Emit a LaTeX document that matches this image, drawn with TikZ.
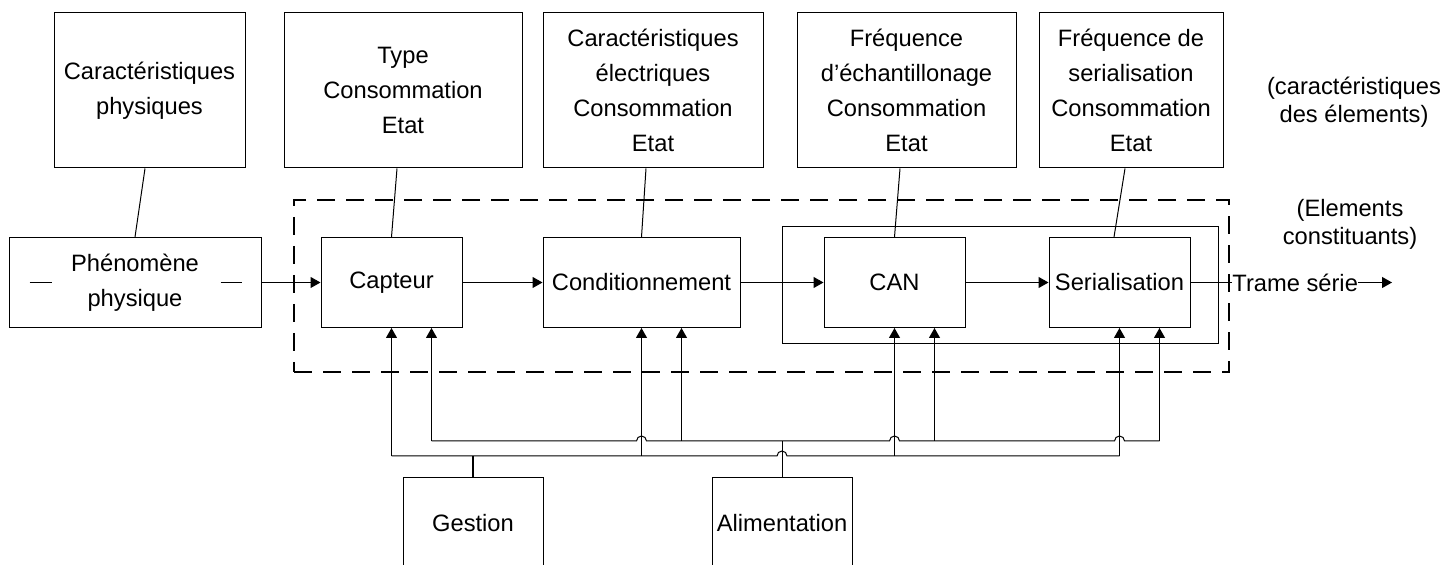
\documentclass[tikz,border=0pt]{standalone}
\usepackage{fontspec}
\setmainfont{Liberation Sans}
\usetikzlibrary{arrows.meta,calc}
\begin{document}
\begin{tikzpicture}[x=0.5pt,y=-0.5pt,
  box/.style={draw, line width=0.5pt, align=center, inner sep=0pt, font=\fontsize{11.85}{17.5}\selectfont},
  wire/.style={line width=0.5pt},
  arr/.style={wire, -{Triangle[length=5pt,width=5.5pt]}},
  lbl/.style={align=center, inner sep=0pt, font=\fontsize{11.85}{14}\selectfont},
  dashbox/.style={draw, line width=1.2pt, dash pattern=on 9pt off 5.5pt},
]
\useasboundingbox (0,0) rectangle (1444,565);

% top characteristic boxes
\node[box, minimum width=95.5pt, minimum height=77.5pt] (c1) at (149.5,90.5) {Caractéristiques\\physiques};
\node[box, minimum width=119pt, minimum height=77.5pt] (c2) at (403,90.5) {Type\\Consommation\\Etat};
\node[box, minimum width=110pt, minimum height=77.5pt] (c3) at (653,90.5) {Caractéristiques\\électriques\\Consommation\\Etat};
\node[box, minimum width=109.5pt, minimum height=77.5pt] (c4) at (906.5,90.5) {Fréquence\\d’échantillonage\\Consommation\\Etat};
\node[box, minimum width=92pt, minimum height=77.5pt] (c5) at (1131,90.5) {Fréquence de\\serialisation\\Consommation\\Etat};

% dashed enclosure and group box
\node[dashbox, minimum width=467.5pt, minimum height=86pt] (dz) at (761.5,286) {};
\node[draw, line width=0.5pt, minimum width=218pt, minimum height=58.5pt] (grp) at (1000,285.5) {};

% main chain
\node[box, minimum width=126pt, minimum height=45pt] (phen) at (135,282.5) {Phénomène\\physique};
\node[box, minimum width=70.5pt, minimum height=45pt] (capt) at (391.5,282.5) {Capteur};
\node[box, minimum width=98.5pt, minimum height=45pt] (cond) at (641.5,282.5) {Conditionnement};
\node[box, minimum width=70.5pt, minimum height=45pt] (can) at (894.5,282.5) {CAN};
\node[box, minimum width=70.5pt, minimum height=45pt] (ser) at (1119.5,282.5) {Serialisation};
\node[lbl, anchor=west] (trame) at (1232,282.5) {Trame série};
\coordinate (out) at (1392,282.5);

% bottom boxes
\node[box, minimum width=70pt, minimum height=45pt] (ges) at (473,523) {Gestion};
\node[box, minimum width=70pt, minimum height=45pt] (alim) at (782,523) {Alimentation};

% side labels
\node[lbl] (l1) at (1354,102) {(caractéristiques\\des élements)};
\node[lbl] (l2) at (1350,224) {(Elements\\constituants)};

% small dashes inside the phenomenon box
\draw[wire] ($(phen.west)+(21,0)$) -- ++(22,0);
\draw[wire] ($(phen.east)+(-41,0)$) -- ++(21,0);

% links characteristic -> element
\draw[wire] ($(c1.south)+(-4.5,0)$) -- (phen.north);
\draw[wire] ($(c2.south)+(-6,0)$) -- (capt.north);
\draw[wire] ($(c3.south)+(-7,0)$) -- (cond.north);
\draw[wire] ($(c4.south)+(-6.5,0)$) -- (can.north);
\draw[wire] ($(c5.south)+(-6,0)$) -- ($(ser.north)+(-5.5,0)$);

% signal chain
\draw[arr] (phen.east) -- (capt.west);
\draw[arr] (capt.east) -- (cond.west);
\draw[arr] (cond.east) -- (can.west);
\draw[arr] (can.east) -- (ser.west);
\draw[wire] (ser.east) -- (trame.west);
\draw[arr] (trame.east) -- (out);

% bus levels
\coordinate (gbus) at (0,456);
\coordinate (abus) at (0,441);

% Gestion network (lower bus)
\draw[wire, line width=0.7pt] (ges.north) -- (ges.north |- gbus);
\draw[wire] (capt.south |- gbus) -- (777,456) arc[start angle=180,end angle=0,radius=2.5pt] -- (ser.south |- gbus);
\draw[arr] (capt.south |- gbus) -- (capt.south);
\draw[arr] (cond.south |- gbus) -- (cond.south);
\draw[arr] (can.south |- gbus) -- (can.south);
\draw[arr] (ser.south |- gbus) -- (ser.south);

% Alimentation network (upper bus)
\coordinate (ca) at ($(capt.south)+(40,0)$);
\coordinate (da) at ($(cond.south)+(40,0)$);
\coordinate (na) at ($(can.south)+(40,0)$);
\coordinate (sa) at ($(ser.south)+(40,0)$);
\draw[wire] (alim.north) -- (alim.north |- abus);
\draw[wire] (ca |- abus) -- (636.5,441) arc[start angle=180,end angle=0,radius=2.5pt]
  -- (889.5,441) arc[start angle=180,end angle=0,radius=2.5pt]
  -- (1114.5,441) arc[start angle=180,end angle=0,radius=2.5pt]
  -- (sa |- abus);
\draw[arr] (ca |- abus) -- (ca);
\draw[arr] (da |- abus) -- (da);
\draw[arr] (na |- abus) -- (na);
\draw[arr] (sa |- abus) -- (sa);
\end{tikzpicture}
\end{document}
